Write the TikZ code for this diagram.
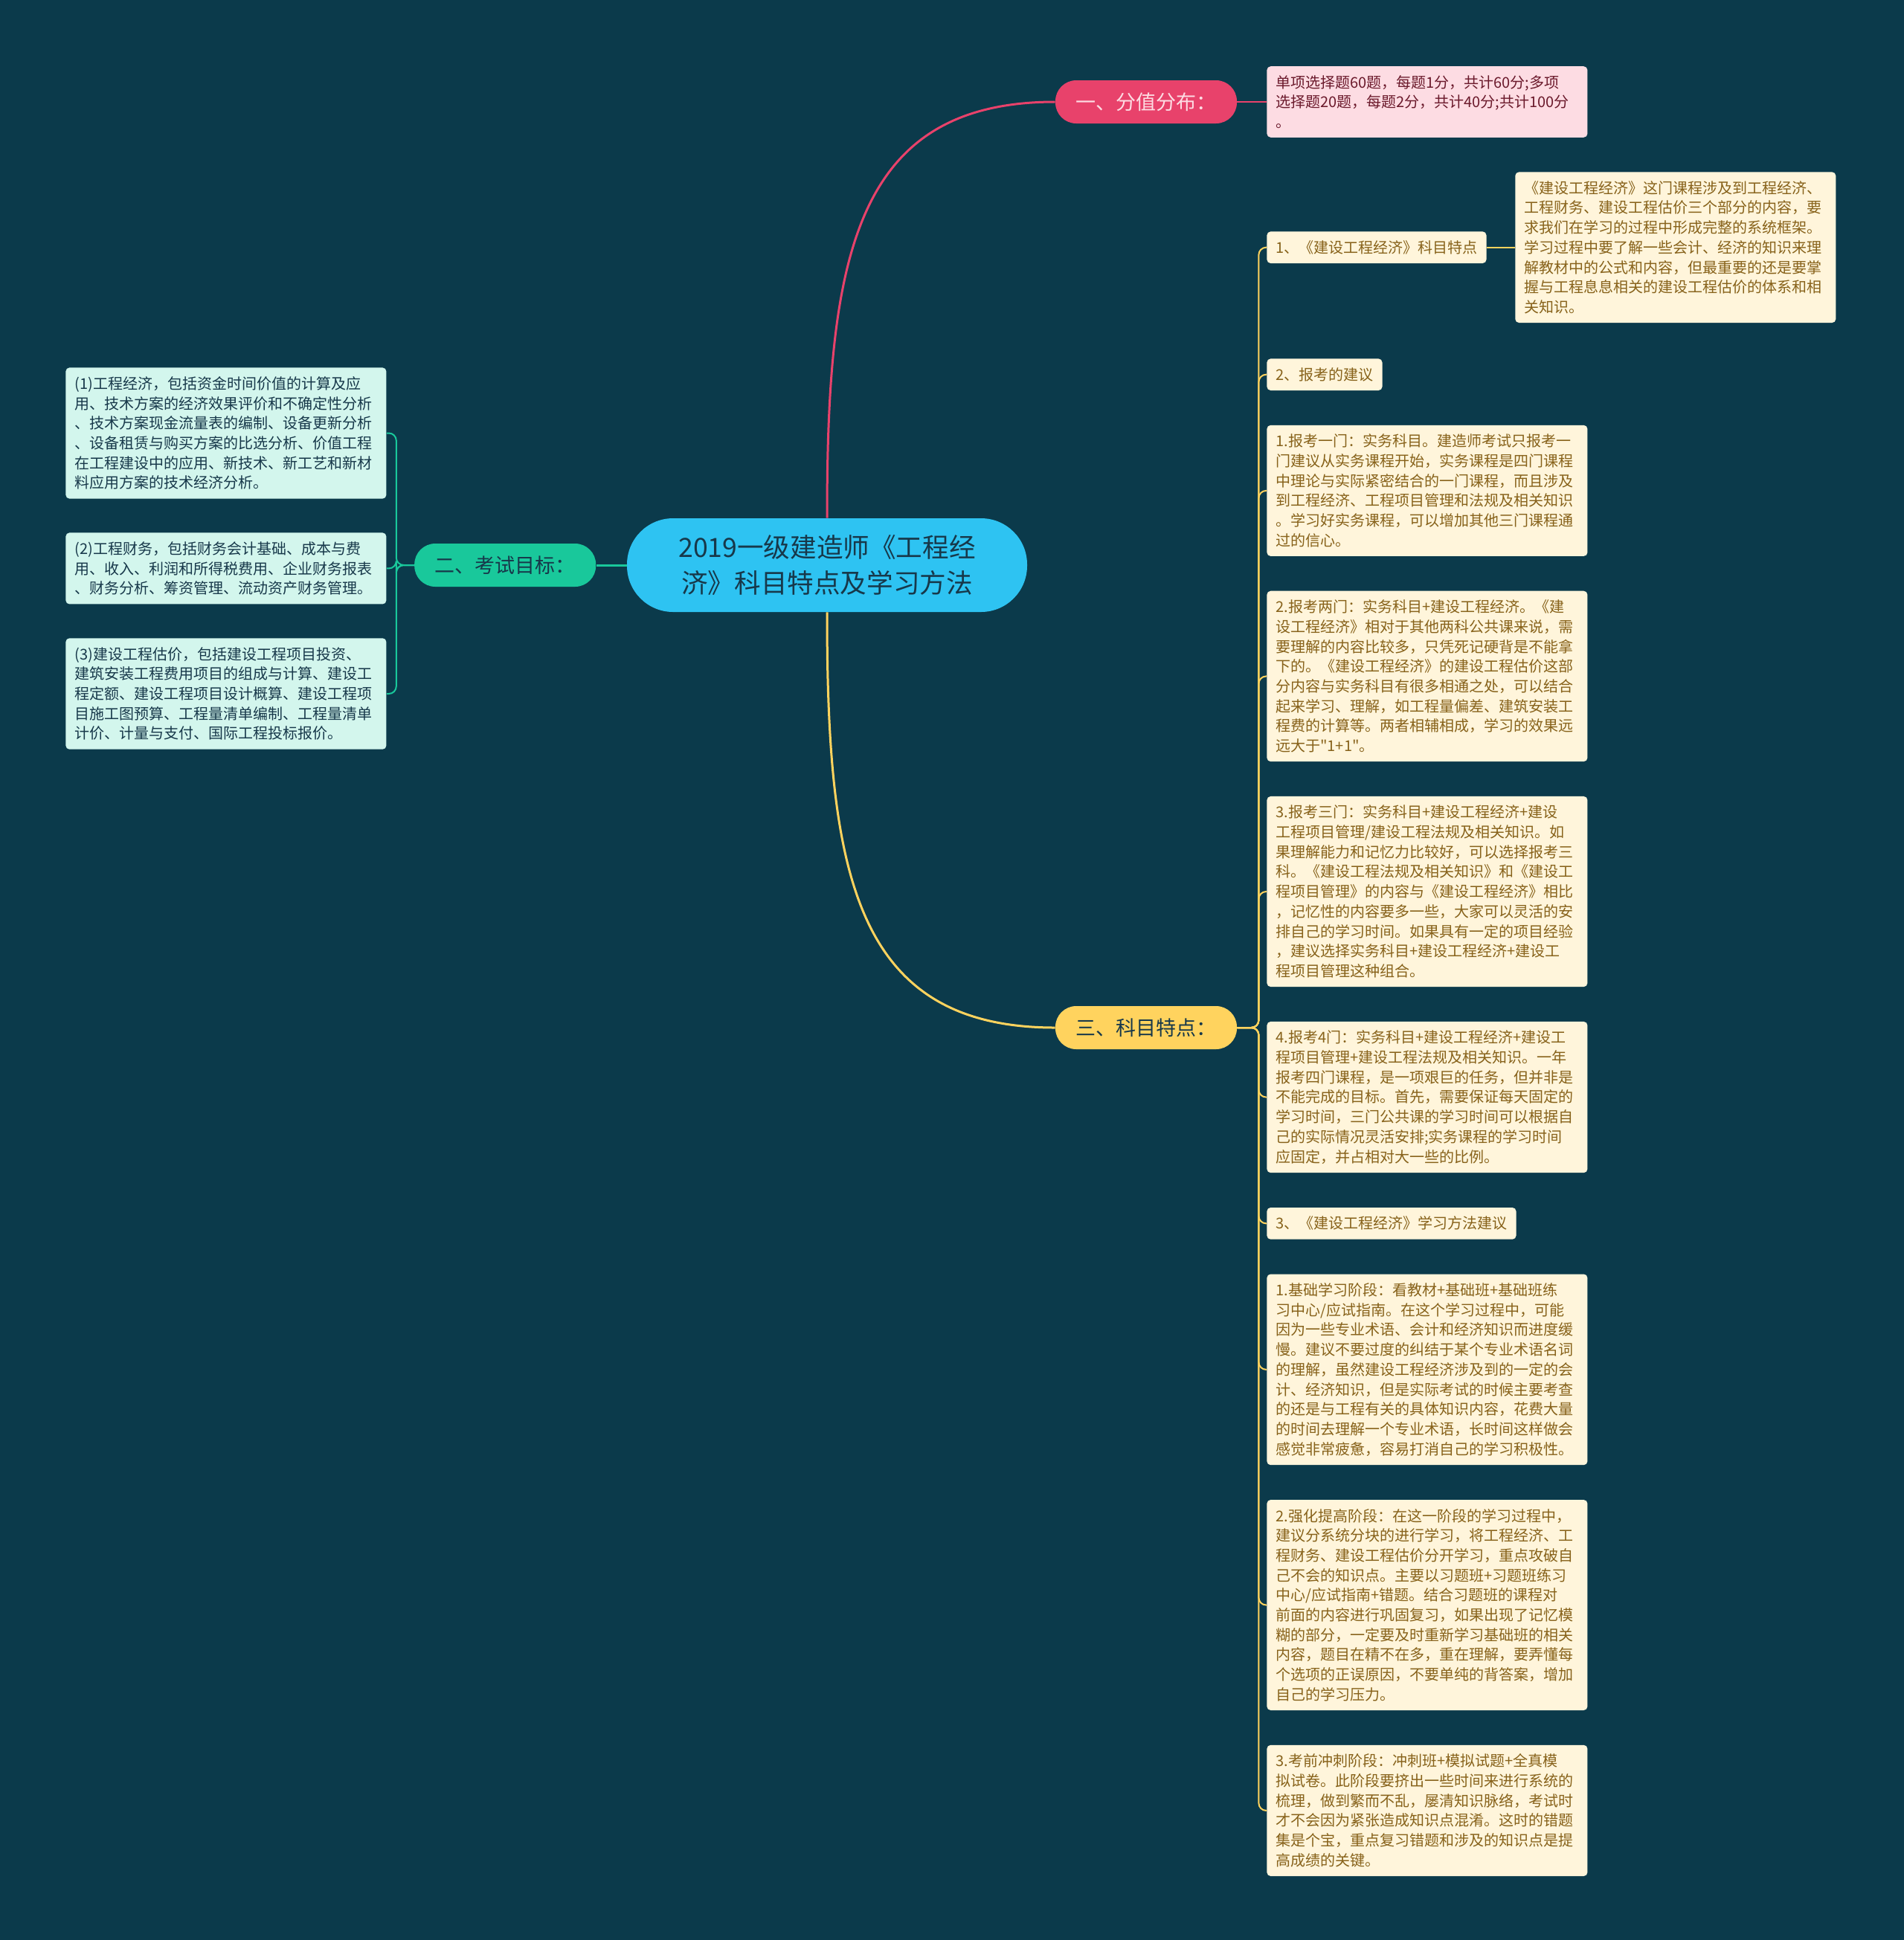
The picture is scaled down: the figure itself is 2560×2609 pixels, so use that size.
\documentclass[tikz,border=0pt]{standalone}
\usepackage{fontspec}
\setmainfont{Noto Sans CJK SC}[Ligatures=TeXOff]
\usetikzlibrary{positioning}

\definecolor{bgteal}{HTML}{0B3A4B}
\definecolor{rootblue}{HTML}{2EC3F2}
\definecolor{inkdark}{HTML}{17384A}
\definecolor{pinkred}{HTML}{E8426B}
\definecolor{pinkpale}{HTML}{FDDCE3}
\definecolor{pinkink}{HTML}{6B1A2C}
\definecolor{mintgreen}{HTML}{19C89B}
\definecolor{mintpale}{HTML}{D3F6ED}
\definecolor{sunyellow}{HTML}{FFD35E}
\definecolor{creampale}{HTML}{FFF5DB}
\definecolor{goldink}{HTML}{87621A}

\newcommand\leafsize{\fontsize{10}{13.35}\selectfont}
\newcommand\branchsize{\fontsize{13.5}{16}\selectfont}
\newcommand\rootsize{\fontsize{17.8}{24}\selectfont}

\begin{document}
\begin{tikzpicture}[
    x = 0.5pt, y = -0.5pt,
    every node/.style = {font=\leafsize},
    root/.style     = {rectangle, rounded corners=31pt, fill=rootblue, text=inkdark,
                       minimum width=269pt, minimum height=63pt, align=center, font=\rootsize},
    branch/.style   = {rectangle, rounded corners=14pt, minimum width=122pt,
                       minimum height=29pt, font=\branchsize},
    leaf/.style     = {rectangle, rounded corners=2.5pt, inner sep=6pt,
                       text width=203.5pt, align=left},
    tag/.style      = {rectangle, rounded corners=2.5pt, inner sep=6pt,
                       fill=creampale, text=goldink},
    pinkleaf/.style = {leaf, fill=pinkpale, text=pinkink},
    mintleaf/.style = {leaf, fill=mintpale, text=inkdark},
    goldleaf/.style = {leaf, fill=creampale, text=goldink},
    link/.style     = {line width=1pt, rounded corners=5pt},
    trunk/.style    = {line width=1.5pt}
]
\fill[bgteal] (0,0) rectangle (2560,2609);
\useasboundingbox (0,0) rectangle (2560,2609);

\node[root] (root) at (1112,760) {2019一级建造师《工程经\\济》科目特点及学习方法};
\node[branch, fill=pinkred, text=pinkpale] (score) at (1541,137) {一、分值分布：};
\node[branch, fill=mintgreen, text=inkdark, left=20.5pt of root] (goal) {二、考试目标：};
\node[branch, fill=sunyellow, text=inkdark] (feat) at (1541,1382) {三、科目特点：};

\node[pinkleaf, anchor=west] (scoretxt) at (1703,137)
  {单项选择题60题，每题1分，共计60分;多项\\选择题20题，每题2分，共计40分;共计100分\\。};

\node[mintleaf, anchor=north west] (econ) at (88,494)
  {(1)工程经济，包括资金时间价值的计算及应\\用、技术方案的经济效果评价和不确定性分析\\、技术方案现金流量表的编制、设备更新分析\\、设备租赁与购买方案的比选分析、价值工程\\在工程建设中的应用、新技术、新工艺和新材\\料应用方案的技术经济分析。};
\node[mintleaf, below=22.5pt of econ] (fin)
  {(2)工程财务，包括财务会计基础、成本与费\\用、收入、利润和所得税费用、企业财务报表\\、财务分析、筹资管理、流动资产财务管理。};
\node[mintleaf, below=22.5pt of fin] (cost)
  {(3)建设工程估价，包括建设工程项目投资、\\建筑安装工程费用项目的组成与计算、建设工\\程定额、建设工程项目设计概算、建设工程项\\目施工图预算、工程量清单编制、工程量清单\\计价、计量与支付、国际工程投标报价。};

\node[tag, anchor=north west] (t1) at (1703,311) {1、《建设工程经济》科目特点};
\node[goldleaf, right=19pt of t1] (t1txt)
  {《建设工程经济》这门课程涉及到工程经济、\\工程财务、建设工程估价三个部分的内容，要\\求我们在学习的过程中形成完整的系统框架。\\学习过程中要了解一些会计、经济的知识来理\\解教材中的公式和内容，但最重要的还是要掌\\握与工程息息相关的建设工程估价的体系和相\\关知识。};
\node[tag, anchor=north west] (t2) at (1703,482) {2、报考的建议};
\node[goldleaf, below=23pt of t2.south west, anchor=north west] (one)
  {1.报考一门：实务科目。建造师考试只报考一\\门建议从实务课程开始，实务课程是四门课程\\中理论与实际紧密结合的一门课程，而且涉及\\到工程经济、工程项目管理和法规及相关知识\\。学习好实务课程，可以增加其他三门课程通\\过的信心。};
\node[goldleaf, below=23pt of one] (two)
  {2.报考两门：实务科目+建设工程经济。《建\\设工程经济》相对于其他两科公共课来说，需\\要理解的内容比较多，只凭死记硬背是不能拿\\下的。《建设工程经济》的建设工程估价这部\\分内容与实务科目有很多相通之处，可以结合\\起来学习、理解，如工程量偏差、建筑安装工\\程费的计算等。两者相辅相成，学习的效果远\\远大于"1+1"。};
\node[goldleaf, below=23pt of two] (three)
  {3.报考三门：实务科目+建设工程经济+建设\\工程项目管理/建设工程法规及相关知识。如\\果理解能力和记忆力比较好，可以选择报考三\\科。《建设工程法规及相关知识》和《建设工\\程项目管理》的内容与《建设工程经济》相比\\，记忆性的内容要多一些，大家可以灵活的安\\排自己的学习时间。如果具有一定的项目经验\\，建议选择实务科目+建设工程经济+建设工\\程项目管理这种组合。};
\node[goldleaf, below=23pt of three] (four)
  {4.报考4门：实务科目+建设工程经济+建设工\\程项目管理+建设工程法规及相关知识。一年\\报考四门课程，是一项艰巨的任务，但并非是\\不能完成的目标。首先，需要保证每天固定的\\学习时间，三门公共课的学习时间可以根据自\\己的实际情况灵活安排;实务课程的学习时间\\应固定，并占相对大一些的比例。};
\node[tag, below=23pt of four.south west, anchor=north west] (t3) {3、《建设工程经济》学习方法建议};
\node[goldleaf, below=23pt of t3.south west, anchor=north west] (base)
  {1.基础学习阶段：看教材+基础班+基础班练\\习中心/应试指南。在这个学习过程中，可能\\因为一些专业术语、会计和经济知识而进度缓\\慢。建议不要过度的纠结于某个专业术语名词\\的理解，虽然建设工程经济涉及到的一定的会\\计、经济知识，但是实际考试的时候主要考查\\的还是与工程有关的具体知识内容，花费大量\\的时间去理解一个专业术语，长时间这样做会\\感觉非常疲惫，容易打消自己的学习积极性。};
\node[goldleaf, below=23pt of base] (boost)
  {2.强化提高阶段：在这一阶段的学习过程中，\\建议分系统分块的进行学习，将工程经济、工\\程财务、建设工程估价分开学习，重点攻破自\\己不会的知识点。主要以习题班+习题班练习\\中心/应试指南+错题。结合习题班的课程对\\前面的内容进行巩固复习，如果出现了记忆模\\糊的部分，一定要及时重新学习基础班的相关\\内容，题目在精不在多，重在理解，要弄懂每\\个选项的正误原因，不要单纯的背答案，增加\\自己的学习压力。};
\node[goldleaf, below=23pt of boost] (sprint)
  {3.考前冲刺阶段：冲刺班+模拟试题+全真模\\拟试卷。此阶段要挤出一些时间来进行系统的\\梳理，做到繁而不乱，屡清知识脉络，考试时\\才不会因为紧张造成知识点混淆。这时的错题\\集是个宝，重点复习错题和涉及的知识点是提\\高成绩的关键。};

\draw[trunk, pinkred] (root.north) .. controls +(0,-350) and +(-270,0) .. (score.west);
\draw[link, pinkred] (score.east) -- (scoretxt.west);
\draw[trunk, mintgreen] (root.west) -- (goal.east);
\foreach \n in {econ, fin, cost}
  \draw[link, mintgreen] (goal.west) -- ++(-24,0) |- (\n.east);
\draw[trunk, sunyellow] (root.south) .. controls +(0,350) and +(-270,0) .. (feat.west);
\foreach \n in {t1, t2, one, two, three, four, t3, base, boost, sprint}
  \draw[link, sunyellow] (feat.east) -- ++(29,0) |- (\n.west);
\draw[link, sunyellow] (t1.east) -- (t1txt.west);
\end{tikzpicture}
\end{document}
